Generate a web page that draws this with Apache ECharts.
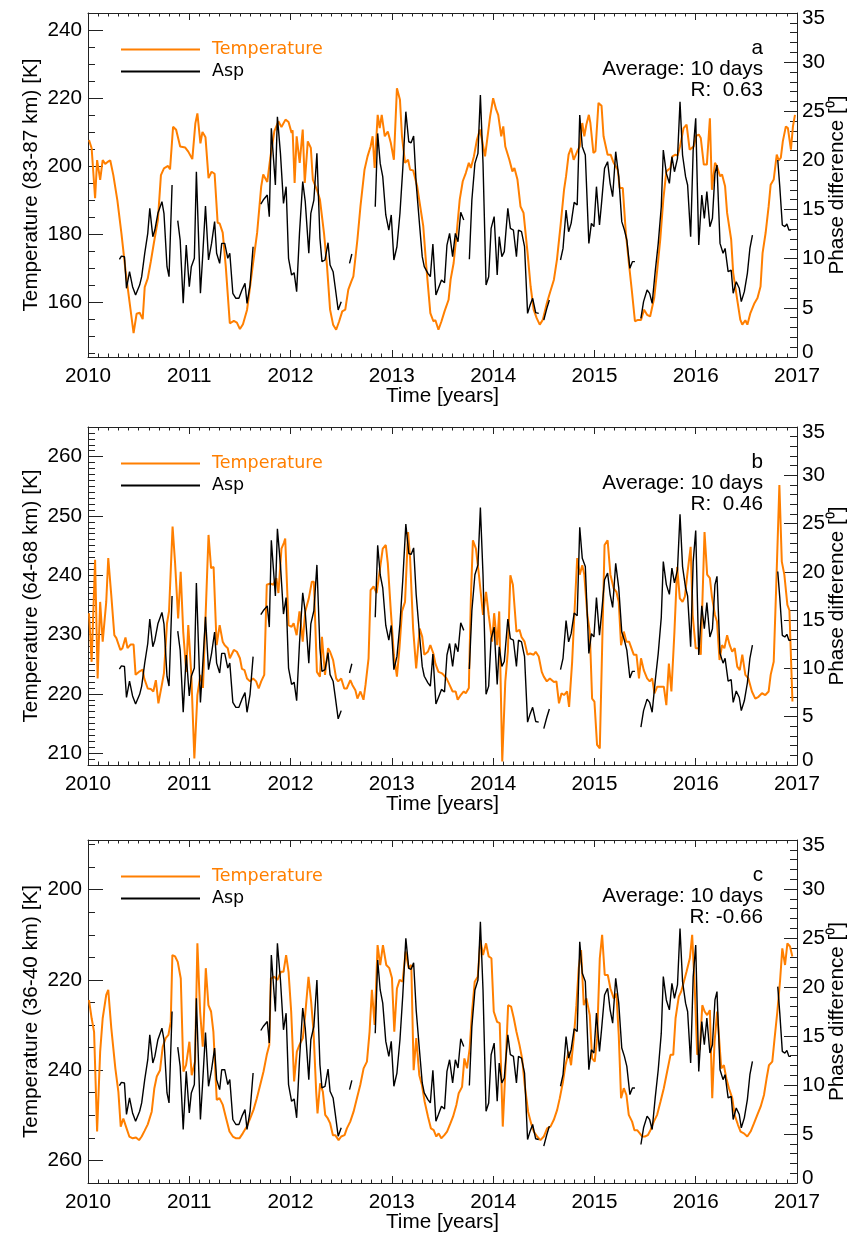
<!DOCTYPE html>
<html>
<head>
<meta charset="utf-8">
<script src="https://cdn.jsdelivr.net/npm/echarts@6/dist/echarts.min.js"></script>
<style>
html,body{margin:0;padding:0;background:#fff;}
#chart{width:851px;height:1236px;}
</style>
</head>
<body>
<div id="chart"></div>
<script>
// ---------------- DATA ----------------
const panelLetters = ['a', 'b', 'c'];
const panelR = ['R:  0.63', 'R:  0.46', 'R: -0.66'];
const tempAxisNames = ['Temperature (83-87 km) [K]', 'Temperature (64-68 km) [K]', 'Temperature (36-40 km) [K]'];
const yearTicks = [2010, 2011, 2012, 2013, 2014, 2015, 2016, 2017];
const tempLabelsA = [160, 180, 200, 220, 240];
const tempLabelsB = [210, 220, 230, 240, 250, 260];
const tempLabelsC = [200, 220, 240, 260];

// Temperature 83-87 km [year, K]
const tempA = [[2010.01,207.7],[2010.036,205.3],[2010.07,190.6],[2010.09,201.8],[2010.12,196],[2010.145,201.8],[2010.17,200.7],[2010.2,201.4],[2010.22,201.7],[2010.25,197.4],[2010.29,190],[2010.33,180.3],[2010.37,169.5],[2010.41,160.2],[2010.45,151],[2010.48,156.7],[2010.51,157],[2010.54,155.1],[2010.56,164.5],[2010.59,167.1],[2010.62,172],[2010.65,177.4],[2010.69,184.2],[2010.72,197.4],[2010.75,199.4],[2010.79,200.1],[2010.81,199.1],[2010.84,211.6],[2010.87,210.7],[2010.91,205.8],[2010.96,205.5],[2010.99,204.3],[2011.03,202.1],[2011.06,212.6],[2011.08,215.5],[2011.11,206.7],[2011.13,210.1],[2011.16,208.5],[2011.19,196.5],[2011.22,198.4],[2011.25,197.8],[2011.28,183.4],[2011.3,183.2],[2011.33,180.5],[2011.36,170.7],[2011.4,153.9],[2011.44,154.6],[2011.47,154.1],[2011.5,152.2],[2011.53,153.6],[2011.57,157.8],[2011.6,164.6],[2011.63,171.6],[2011.67,180.5],[2011.71,194],[2011.73,197.6],[2011.77,195.4],[2011.8,202.5],[2011.84,210.3],[2011.88,213.2],[2011.91,211.5],[2011.95,213.7],[2011.98,213],[2012.01,209.8],[2012.02,210.6],[2012.04,195.1],[2012.06,208.8],[2012.09,201],[2012.12,210.8],[2012.14,195.1],[2012.17,207.3],[2012.2,205.4],[2012.22,196.1],[2012.26,193.1],[2012.29,190.2],[2012.33,180.4],[2012.36,170.6],[2012.39,157.9],[2012.42,153.5],[2012.45,152],[2012.48,154.5],[2012.51,157.4],[2012.54,157.9],[2012.57,163.8],[2012.6,166.2],[2012.62,167.7],[2012.66,178.5],[2012.69,188.2],[2012.73,199],[2012.76,202.9],[2012.79,205.8],[2012.81,208.8],[2012.83,199.5],[2012.86,215.1],[2012.88,211.2],[2012.9,215.1],[2012.93,208.8],[2012.96,210.2],[2012.99,206.8],[2013.02,201.9],[2013.05,222.9],[2013.08,219.5],[2013.1,208.8],[2013.13,201],[2013.16,201.9],[2013.18,199],[2013.21,198.8],[2013.25,194.1],[2013.28,188.2],[2013.31,182.4],[2013.34,170.6],[2013.38,156.9],[2013.41,154.5],[2013.43,154.8],[2013.46,152],[2013.49,154.5],[2013.52,157.4],[2013.56,160.8],[2013.58,166.7],[2013.61,171.6],[2013.64,180.4],[2013.67,190.2],[2013.7,195.6],[2013.73,198],[2013.76,201],[2013.78,199.5],[2013.81,202.9],[2013.84,207.8],[2013.87,210.8],[2013.89,207.8],[2013.92,202.9],[2013.93,203.4],[2013.97,214.6],[2014.0,220],[2014.03,216.6],[2014.05,215.1],[2014.08,208.8],[2014.1,211.7],[2014.12,205.8],[2014.16,201.9],[2014.19,198.5],[2014.21,199.5],[2014.24,196.1],[2014.27,188.2],[2014.3,186.3],[2014.34,174.5],[2014.37,164.7],[2014.4,157.9],[2014.43,155.4],[2014.46,153.5],[2014.49,154.9],[2014.53,159.8],[2014.56,162.8],[2014.6,166.7],[2014.63,172.6],[2014.665,182.4],[2014.7,193.1],[2014.72,197.1],[2014.745,203.4],[2014.77,205.4],[2014.795,201.9],[2014.83,204.4],[2014.855,205.8],[2014.88,212.7],[2014.9,208.8],[2014.92,212.2],[2014.945,215.1],[2014.96,212.7],[2014.99,203.9],[2015.01,204.4],[2015.04,218.6],[2015.07,217.8],[2015.09,208.8],[2015.13,203.4],[2015.16,203.4],[2015.19,201],[2015.23,199],[2015.25,193.6],[2015.28,193.6],[2015.31,180.4],[2015.34,171.6],[2015.37,163.3],[2015.4,154.5],[2015.43,154.9],[2015.46,154.9],[2015.49,157.9],[2015.52,156.4],[2015.55,155.9],[2015.59,161.3],[2015.62,169.6],[2015.65,178.5],[2015.68,190.2],[2015.71,198.5],[2015.75,199.5],[2015.77,202.9],[2015.8,203.4],[2015.82,203.1],[2015.845,205.8],[2015.88,211.2],[2015.91,212.2],[2015.94,204.9],[2015.98,205.8],[2016.005,208.9],[2016.03,209.3],[2016.05,208.3],[2016.08,200.5],[2016.11,200.5],[2016.14,214.1],[2016.16,193.1],[2016.19,201],[2016.21,200],[2016.24,197.1],[2016.26,197.6],[2016.29,194.1],[2016.31,186.3],[2016.35,178.5],[2016.37,168.7],[2016.41,160.8],[2016.44,155],[2016.46,153.5],[2016.49,154.8],[2016.51,153.5],[2016.54,156.9],[2016.58,159.8],[2016.61,161.3],[2016.64,164.7],[2016.66,174.5],[2016.69,180.4],[2016.72,188.2],[2016.74,194.6],[2016.77,196.1],[2016.8,203.4],[2016.82,201.7],[2016.84,202.5],[2016.86,207.3],[2016.89,211.7],[2016.91,211.2],[2016.94,204.9],[2016.96,211.7],[2016.98,215.1]];

// Temperature 64-68 km [year, K]
const tempB = [[2010.01,233.6],[2010.036,225.4],[2010.07,242.6],[2010.095,222.6],[2010.12,235.5],[2010.145,228.8],[2010.18,235.5],[2010.2,242.9],[2010.23,236.6],[2010.26,229.9],[2010.28,229.4],[2010.32,227.4],[2010.34,227.7],[2010.37,229.5],[2010.39,227.7],[2010.42,228.3],[2010.45,228.3],[2010.47,223.2],[2010.51,223.8],[2010.54,224.1],[2010.555,222.6],[2010.59,220.9],[2010.62,220.8],[2010.645,220.4],[2010.67,222.3],[2010.695,218.4],[2010.73,221.6],[2010.75,223.5],[2010.78,231.9],[2010.8,233.9],[2010.835,248.2],[2010.86,242],[2010.89,232.7],[2010.915,240.6],[2010.94,230.5],[2010.97,223.7],[2010.99,231.6],[2011.02,223.2],[2011.05,209.1],[2011.08,219.8],[2011.11,223.2],[2011.135,221],[2011.19,246.8],[2011.215,241.2],[2011.24,241.4],[2011.27,228.2],[2011.3,231.6],[2011.33,228.8],[2011.35,228.2],[2011.38,227.7],[2011.4,226],[2011.44,227.4],[2011.47,227.1],[2011.5,226],[2011.52,224.2],[2011.545,224],[2011.57,222.6],[2011.6,222.1],[2011.63,222.6],[2011.66,222.1],[2011.685,220.9],[2011.71,222.1],[2011.74,223.2],[2011.765,238.4],[2011.8,238.6],[2011.83,238.4],[2011.86,239.5],[2011.88,237],[2011.91,244.5],[2011.935,245.5],[2011.947,246.2],[2011.98,231.6],[2012.01,231.3],[2012.03,231.9],[2012.06,229.9],[2012.088,233.9],[2012.12,228.8],[2012.145,233.9],[2012.18,236.1],[2012.21,238.9],[2012.23,238.9],[2012.26,223.7],[2012.29,222.9],[2012.31,229.6],[2012.34,223.2],[2012.37,227.7],[2012.39,227.1],[2012.42,225.7],[2012.45,222.6],[2012.47,222.1],[2012.5,222.6],[2012.53,220.9],[2012.555,220.9],[2012.59,222.3],[2012.61,221.5],[2012.64,220.6],[2012.66,219.2],[2012.69,220.4],[2012.72,219],[2012.74,221.5],[2012.77,226],[2012.79,237.5],[2012.82,238.1],[2012.85,237],[2012.87,239.5],[2012.91,244.5],[2012.94,245.1],[2012.96,242],[2012.99,233.9],[2013.02,226.6],[2013.05,222.9],[2013.075,227.7],[2013.1,233.9],[2013.13,235.5],[2013.16,247.3],[2013.18,242.9],[2013.21,231],[2013.24,224.3],[2013.275,231],[2013.3,229.6],[2013.32,226.6],[2013.356,227.1],[2013.38,228.2],[2013.41,226.8],[2013.43,225.1],[2013.46,223.7],[2013.49,223.5],[2013.51,223.2],[2013.54,222.6],[2013.57,221.5],[2013.6,220.4],[2013.63,220.4],[2013.65,219],[2013.68,219.8],[2013.71,220.4],[2013.73,220.1],[2013.76,221],[2013.78,236],[2013.8,245.9],[2013.83,244.5],[2013.86,240],[2013.9,233.3],[2013.93,237.2],[2013.956,233.3],[2013.99,228.8],[2014.01,233.6],[2014.04,228.2],[2014.06,233.9],[2014.09,208.6],[2014.12,222.1],[2014.145,227.1],[2014.17,240],[2014.195,238.4],[2014.23,230.5],[2014.26,230.8],[2014.28,229.6],[2014.31,228.8],[2014.34,226.6],[2014.365,226.8],[2014.4,226.6],[2014.42,227.1],[2014.45,226.3],[2014.48,223.7],[2014.5,222.9],[2014.53,222.1],[2014.56,222.6],[2014.6,222],[2014.625,222.1],[2014.65,218.4],[2014.675,220.1],[2014.7,219.8],[2014.73,220.4],[2014.75,217.8],[2014.78,225.4],[2014.8,232.7],[2014.83,242.9],[2014.855,240.1],[2014.88,241.7],[2014.9,240.1],[2014.93,233.3],[2014.954,230.5],[2014.977,219.2],[2015.0,218.7],[2015.026,211.4],[2015.053,210.8],[2015.076,227.7],[2015.1,245.1],[2015.13,245.9],[2015.158,240.1],[2015.19,237.8],[2015.217,237.2],[2015.24,235.5],[2015.263,228.2],[2015.29,230.5],[2015.316,228.8],[2015.342,228.8],[2015.365,227.7],[2015.388,226.6],[2015.415,226.6],[2015.44,222.6],[2015.46,226],[2015.487,224],[2015.52,222.6],[2015.546,222.1],[2015.57,222.6],[2015.593,220.1],[2015.62,221.2],[2015.652,221.2],[2015.685,221.2],[2015.71,218.1],[2015.735,225.1],[2015.76,220.4],[2015.79,230.5],[2015.817,241.4],[2015.843,236.1],[2015.87,235.5],[2015.893,236.4],[2015.92,240.6],[2015.95,244.8],[2015.97,233.3],[2016.0,227.7],[2016.03,227.7],[2016.05,226.6],[2016.087,247.3],[2016.113,240.1],[2016.14,239.5],[2016.16,236.4],[2016.19,233.3],[2016.21,232.2],[2016.235,225.7],[2016.26,228.2],[2016.283,227.7],[2016.31,229.9],[2016.336,228.2],[2016.36,227.1],[2016.385,227.7],[2016.41,224.6],[2016.435,224],[2016.46,226.6],[2016.49,223.2],[2016.52,222.6],[2016.555,220.4],[2016.588,219.2],[2016.62,219.5],[2016.654,220.1],[2016.687,219.8],[2016.72,220.4],[2016.74,223.2],[2016.77,225.4],[2016.793,237.2],[2016.826,255.2],[2016.85,242.3],[2016.875,240.1],[2016.905,235],[2016.925,234.1],[2016.955,218.7]];

// Temperature 36-40 km [year, K]
const tempC = [[2010.01,224.5],[2010.036,228.5],[2010.06,231.5],[2010.09,253.6],[2010.12,235.9],[2010.145,228.5],[2010.18,223.3],[2010.2,222.2],[2010.23,230.7],[2010.27,239.6],[2010.3,244.8],[2010.323,252.5],[2010.349,250.7],[2010.375,252.5],[2010.408,254.7],[2010.441,255.1],[2010.474,254.9],[2010.504,255.5],[2010.53,254.7],[2010.557,253.5],[2010.59,252],[2010.629,249.2],[2010.655,244],[2010.679,241.4],[2010.711,240],[2010.738,234.8],[2010.767,232.9],[2010.794,232.2],[2010.817,229.3],[2010.833,214.5],[2010.86,214.8],[2010.886,216],[2010.916,219.7],[2010.942,240.3],[2010.968,238.9],[2011.001,233.7],[2011.024,241.1],[2011.057,238.1],[2011.08,211.9],[2011.107,227],[2011.133,234.8],[2011.163,217.4],[2011.189,225.6],[2011.215,227],[2011.238,231.5],[2011.271,246.6],[2011.298,246.2],[2011.331,247.7],[2011.364,250.7],[2011.397,253.6],[2011.43,254.7],[2011.462,255.1],[2011.495,255.1],[2011.528,254],[2011.568,252.5],[2011.601,250.7],[2011.634,248.8],[2011.667,246.2],[2011.7,243.3],[2011.733,240.3],[2011.765,236.6],[2011.79,234.4],[2011.805,219.7],[2011.838,219.3],[2011.871,220],[2011.904,218.2],[2011.93,218.2],[2011.956,214.5],[2011.98,218.2],[2012.006,227],[2012.035,242.5],[2012.062,235.9],[2012.088,234.4],[2012.121,232.9],[2012.144,227.8],[2012.177,219.3],[2012.203,224.8],[2012.227,231.5],[2012.253,244.8],[2012.266,249.6],[2012.292,242.9],[2012.319,244.8],[2012.342,249.9],[2012.368,250.7],[2012.391,251.8],[2012.418,254.4],[2012.441,254.4],[2012.474,255.5],[2012.5,254.7],[2012.533,254.4],[2012.556,252.9],[2012.589,251.4],[2012.622,249.2],[2012.655,246.2],[2012.688,243.3],[2012.721,239.6],[2012.754,238.1],[2012.78,231.5],[2012.803,222.2],[2012.83,230],[2012.859,212.3],[2012.885,216.7],[2012.912,212.3],[2012.945,216.7],[2012.975,217.4],[2013.001,219.6],[2013.024,231.5],[2013.05,221.9],[2013.077,220],[2013.106,220.4],[2013.136,213.7],[2013.166,217.4],[2013.192,216.7],[2013.215,240],[2013.241,232.9],[2013.271,241.1],[2013.297,243.3],[2013.324,247],[2013.357,250.3],[2013.386,252.9],[2013.413,253.3],[2013.439,254.7],[2013.462,254],[2013.488,255.1],[2013.518,254.4],[2013.545,253.6],[2013.578,251.8],[2013.604,250.3],[2013.637,247.7],[2013.66,245.1],[2013.693,243.7],[2013.716,237.4],[2013.742,239.6],[2013.768,235.2],[2013.792,227],[2013.818,220.4],[2013.848,219.3],[2013.874,211.2],[2013.9,214.5],[2013.93,211.9],[2013.956,214.8],[2013.983,215.2],[2014.006,227],[2014.039,229.3],[2014.065,229.6],[2014.095,252.5],[2014.121,240],[2014.148,225.6],[2014.177,225.9],[2014.204,228.5],[2014.23,231.5],[2014.26,234.4],[2014.286,237.4],[2014.312,243.3],[2014.345,249.2],[2014.375,251.8],[2014.401,253.6],[2014.434,254.7],[2014.467,255.5],[2014.5,254.7],[2014.533,252.9],[2014.566,252.5],[2014.599,251],[2014.632,248.8],[2014.658,246.2],[2014.69,242.5],[2014.714,238.9],[2014.746,235.9],[2014.769,238.9],[2014.796,232.9],[2014.822,225.6],[2014.845,217.4],[2014.868,213.4],[2014.895,225.6],[2014.921,224.1],[2014.954,227.8],[2014.977,237.4],[2015.003,238.1],[2015.026,232.9],[2015.053,215.2],[2015.076,210],[2015.102,218.9],[2015.132,218.9],[2015.158,221.9],[2015.191,224.1],[2015.217,223],[2015.24,232.2],[2015.263,246.2],[2015.29,244],[2015.316,245.5],[2015.339,249.9],[2015.372,251.4],[2015.395,253.3],[2015.422,253.3],[2015.448,254],[2015.471,254.7],[2015.498,254.7],[2015.527,254.4],[2015.553,253.3],[2015.586,251.4],[2015.619,249.9],[2015.652,247],[2015.685,244],[2015.718,240.3],[2015.751,236.6],[2015.778,236.6],[2015.801,228.5],[2015.833,223.7],[2015.856,222.6],[2015.883,220.4],[2015.909,218.2],[2015.942,215.2],[2015.965,210],[2015.992,222.6],[2016.015,236.6],[2016.041,235.2],[2016.065,225.6],[2016.088,227],[2016.113,227.8],[2016.14,226.7],[2016.163,246.2],[2016.186,233.7],[2016.212,227],[2016.252,239.6],[2016.278,238.9],[2016.302,241.8],[2016.328,244],[2016.361,246.2],[2016.384,249.9],[2016.417,252.1],[2016.443,253.6],[2016.476,254],[2016.509,254.7],[2016.542,253.6],[2016.575,251.8],[2016.608,249.9],[2016.641,248.1],[2016.674,245.5],[2016.7,241.8],[2016.723,238.9],[2016.756,238.1],[2016.779,232.9],[2016.806,227],[2016.832,220.4],[2016.855,213],[2016.882,216.7],[2016.905,211.9],[2016.931,212.6],[2016.954,214.8]];

// Asp phase difference [year, degrees]; null = data gap
const asp = [[2010.31,9.94],[2010.33,10.27],[2010.36,10.2],[2010.38,6.99],[2010.41,8.68],[2010.44,7.15],[2010.47,6.31],[2010.51,7.32],[2010.53,8.17],[2010.56,10.55],[2010.59,12.58],[2010.61,15.12],[2010.64,12.24],[2010.66,12.92],[2010.69,14.62],[2010.73,15.8],[2010.75,14.62],[2010.78,9.19],[2010.8,8.17],[2010.83,17.5],[2010.86,null],[2010.886,13.87],[2010.91,11.9],[2010.94,5.46],[2010.97,11.39],[2011.0,7.15],[2011.02,9.19],[2011.05,10.04],[2011.07,18.85],[2011.11,6.48],[2011.13,9.87],[2011.16,15.36],[2011.19,9.87],[2011.22,11.56],[2011.25,13.77],[2011.27,10.55],[2011.3,9.53],[2011.32,11.56],[2011.35,11.56],[2011.38,10.04],[2011.4,10.55],[2011.43,6.48],[2011.46,5.97],[2011.49,5.97],[2011.52,6.82],[2011.55,7.49],[2011.57,5.46],[2011.6,7.32],[2011.63,11.22],[2011.67,null],[2011.706,15.56],[2011.73,15.97],[2011.77,16.48],[2011.79,14.28],[2011.81,23.26],[2011.85,17.5],[2011.87,24.45],[2011.9,20.72],[2011.93,15.63],[2011.956,17.33],[2011.98,10.04],[2012.01,8.34],[2012.035,8.58],[2012.06,6.65],[2012.088,12.58],[2012.12,17.84],[2012.145,15.8],[2012.18,10.55],[2012.2,14.62],[2012.23,15.97],[2012.26,20.72],[2012.29,12.07],[2012.31,9.7],[2012.34,9.87],[2012.37,11.63],[2012.39,9.36],[2012.42,8.68],[2012.44,7.15],[2012.47,4.78],[2012.5,5.63],[2012.54,null],[2012.582,9.53],[2012.605,10.48],[2012.7,null],[2012.836,15.29],[2012.86,22.75],[2012.885,19.7],[2012.91,18.35],[2012.94,14.45],[2012.97,12.92],[2012.994,14.45],[2013.02,9.87],[2013.05,11.22],[2013.08,14.62],[2013.108,19.19],[2013.138,24.96],[2013.167,21.9],[2013.19,21.8],[2013.215,22.48],[2013.24,17.67],[2013.275,13.26],[2013.3,10.21],[2013.32,9.19],[2013.356,8.51],[2013.38,8.17],[2013.405,11.5],[2013.435,6.31],[2013.46,6.99],[2013.49,7.83],[2013.52,7.56],[2013.544,11.39],[2013.57,12.58],[2013.6,10.21],[2013.627,12.58],[2013.653,11.73],[2013.68,14.72],[2013.71,13.94],[2013.74,null],[2013.765,9.94],[2013.79,15.97],[2013.82,19.7],[2013.85,20.72],[2013.874,26.65],[2013.9,19.7],[2013.93,7.32],[2013.956,8.17],[2013.98,13.09],[2014.01,14.28],[2014.04,8.34],[2014.06,12.24],[2014.086,10.21],[2014.11,10.72],[2014.145,15.12],[2014.17,13.09],[2014.2,12.92],[2014.23,10.21],[2014.25,12.92],[2014.28,12.75],[2014.31,11.22],[2014.34,4.44],[2014.365,5.29],[2014.39,5.97],[2014.42,4.51],[2014.45,4.44],[2014.475,null],[2014.5,3.76],[2014.53,4.95],[2014.555,5.8],[2014.6,null],[2014.665,9.87],[2014.69,11.05],[2014.72,14.95],[2014.745,12.75],[2014.77,13.6],[2014.8,15.73],[2014.83,15.46],[2014.855,24.62],[2014.88,21.4],[2014.91,20.55],[2014.945,11.56],[2014.97,13.6],[2014.995,13.26],[2015.02,17.33],[2015.05,13.43],[2015.07,15.63],[2015.1,19.19],[2015.13,19.87],[2015.155,17.67],[2015.18,16.31],[2015.21,20.89],[2015.24,18.35],[2015.27,13.77],[2015.296,12.92],[2015.32,11.9],[2015.35,9.02],[2015.375,9.7],[2015.4,9.7],[2015.43,null],[2015.459,3.93],[2015.485,5.63],[2015.52,6.82],[2015.545,6.48],[2015.57,5.46],[2015.6,8.68],[2015.63,11.56],[2015.66,15.29],[2015.68,21.06],[2015.71,18.68],[2015.74,17.67],[2015.765,20.38],[2015.79,18.85],[2015.82,20.21],[2015.845,25.97],[2015.87,20.55],[2015.9,18.35],[2015.92,17.5],[2015.95,12.24],[2015.975,21.06],[2016.0,24.28],[2016.03,11.39],[2016.06,16.48],[2016.085,14.11],[2016.11,16.82],[2016.14,13.26],[2016.165,14.11],[2016.19,18.68],[2016.21,19.53],[2016.24,11.56],[2016.27,10.55],[2016.29,11.05],[2016.32,8.68],[2016.35,8.85],[2016.37,6.48],[2016.4,7.66],[2016.43,6.99],[2016.45,5.63],[2016.48,6.65],[2016.51,8.51],[2016.535,11.05],[2016.56,12.41],[2016.7,null],[2016.81,20.04],[2016.83,17.33],[2016.855,13.43],[2016.88,13.26],[2016.9,13.53],[2016.92,12.92],[2016.94,12.92]];

// ---------------- LAYOUT / STYLE ----------------
const ORANGE = '#FF7F00';
const FONT = "'Liberation Sans', Arial, Helvetica, sans-serif";
const FS = 20.7;
const AXIS_COLOR = '#222';
const panels = [
  { top: 13, height: 344, min: 144, max: 245, inverse: false, labels: tempLabelsA, minorStep: 5, temp: tempA },
  { top: 427, height: 338, min: 208, max: 265, inverse: false, labels: tempLabelsB, minorStep: 1, temp: tempB },
  { top: 840, height: 343, min: 189, max: 265, inverse: true, labels: tempLabelsC, minorStep: 5, temp: tempC }
];
const LEFT = 88, RIGHT = 54;

function range(a, b, step) { const r = []; for (let v = a; v <= b + 1e-9; v += step) r.push(v); return r; }
function toSeries(pairs) { return pairs.map(p => [p[0], p[1] == null ? '-' : p[1]]); }

const grid = [], xAxis = [], yAxis = [], series = [], legend = [], graphic = [];
panels.forEach((p, i) => {
  grid.push({ left: LEFT, right: RIGHT, top: p.top, height: p.height, containLabel: false, outerBoundsMode: 'none' });
  const xBase = {
    type: 'value', gridIndex: i, min: 2010, max: 2017, interval: 1,
    axisLine: { show: true, lineStyle: { color: AXIS_COLOR, width: 1 } },
    axisTick: { show: true, inside: true, length: 7, lineStyle: { color: AXIS_COLOR } },
    minorTick: { show: true, splitNumber: 10, length: 3.5, lineStyle: { color: AXIS_COLOR } },
    splitLine: { show: false }, minorSplitLine: { show: false }
  };
  xAxis.push(Object.assign({}, xBase, {
    position: 'bottom',
    axisLabel: { show: true, margin: 9, fontSize: FS, fontFamily: FONT, color: '#000',
      customValues: yearTicks, formatter: v => String(Math.round(v)) },
    name: 'Time [years]', nameLocation: 'middle', nameGap: 29, nameMoveOverlap: false,
    nameTextStyle: { fontSize: FS, fontFamily: FONT, color: '#000' }
  }));
  xAxis.push(Object.assign({}, xBase, { position: 'top', axisLabel: { show: false } }));

  const minorVals = range(Math.ceil(p.min / p.minorStep) * p.minorStep, p.max, p.minorStep)
    .filter(v => p.labels.indexOf(v) < 0);
  yAxis.push({
    type: 'value', gridIndex: i, position: 'left', min: p.min, max: p.max, inverse: p.inverse,
    axisLine: { show: true, lineStyle: { color: AXIS_COLOR, width: 1 } },
    axisTick: { show: true, inside: true, length: 15, customValues: p.labels, lineStyle: { color: AXIS_COLOR } },
    axisLabel: { show: true, margin: 6, fontSize: FS, fontFamily: FONT, color: '#000', customValues: p.labels },
    splitLine: { show: false },
    name: tempAxisNames[i], nameLocation: 'middle', nameGap: 46, nameRotate: 90, nameMoveOverlap: false,
    nameTextStyle: { fontSize: FS, fontFamily: FONT, color: '#000' }
  });
  yAxis.push({
    type: 'value', gridIndex: i, position: 'left', offset: 0, min: p.min, max: p.max, inverse: p.inverse,
    axisLine: { show: false },
    axisTick: { show: true, inside: true, length: 7, customValues: minorVals, lineStyle: { color: AXIS_COLOR } },
    axisLabel: { show: false }, splitLine: { show: false }
  });
  yAxis.push({
    type: 'value', gridIndex: i, position: 'right', min: 0, max: 35, interval: 5,
    axisLine: { show: true, lineStyle: { color: AXIS_COLOR, width: 1 } },
    axisTick: { show: true, inside: true, length: 13, lineStyle: { color: AXIS_COLOR } },
    minorTick: { show: true, splitNumber: 5, length: 7, lineStyle: { color: AXIS_COLOR } },
    axisLabel: {
      show: true, margin: 5, fontSize: FS, fontFamily: FONT, color: '#000',
      formatter: v => v === 0 ? '{lo|0}' : (v === 35 ? '{hi|35}' : String(v)),
      rich: {
        lo: { fontSize: FS, fontFamily: FONT, color: '#000', padding: [0, 0, 10, 0] },
        hi: { fontSize: FS, fontFamily: FONT, color: '#000', padding: [10, 0, 0, 0] }
      }
    },
    splitLine: { show: false }, minorSplitLine: { show: false },
    name: 'Phase difference [\u2070]', nameLocation: 'middle', nameGap: 30, nameRotate: 90, nameMoveOverlap: false,
    nameTextStyle: { fontSize: FS, fontFamily: FONT, color: '#000' }
  });

  series.push({
    name: 'Temperature', type: 'line', xAxisIndex: 2 * i, yAxisIndex: 3 * i,
    data: toSeries(p.temp), showSymbol: false, symbol: 'none', connectNulls: false,
    lineStyle: { color: ORANGE, width: 2 }, itemStyle: { color: ORANGE }, z: 2, animation: false
  });
  series.push({
    name: 'Asp', type: 'line', xAxisIndex: 2 * i, yAxisIndex: 3 * i + 2,
    data: toSeries(asp), showSymbol: false, symbol: 'none', connectNulls: false,
    lineStyle: { color: '#000', width: 1.4 }, itemStyle: { color: '#000' }, z: 3, animation: false
  });

  legend.push({
    orient: 'vertical', left: 121, top: p.top + 26, padding: 0, itemGap: 1, itemWidth: 79, itemHeight: 2,
    icon: 'rect', selectedMode: false,
    textStyle: { fontSize: 17.5, fontFamily: "'DejaVu Sans', sans-serif", lineHeight: 21, padding: [0, 0, 0, 7] },
    data: [ { name: 'Temperature', textStyle: { color: ORANGE } }, { name: 'Asp', textStyle: { color: '#000' } } ]
  });

  const ann = [panelLetters[i], 'Average: 10 days', panelR[i]];
  ann.forEach((t, k) => {
    graphic.push({
      type: 'text', right: 88, top: p.top + 25 + k * 21,
      style: { text: t, fill: '#000', font: FS + 'px ' + FONT, textAlign: 'right' }
    });
  });
});

const chart = echarts.init(document.getElementById('chart'), null, { renderer: 'canvas' });
chart.setOption({
  animation: false,
  backgroundColor: '#fff',
  grid, xAxis, yAxis, series, legend, graphic
});
</script>
</body>
</html>
